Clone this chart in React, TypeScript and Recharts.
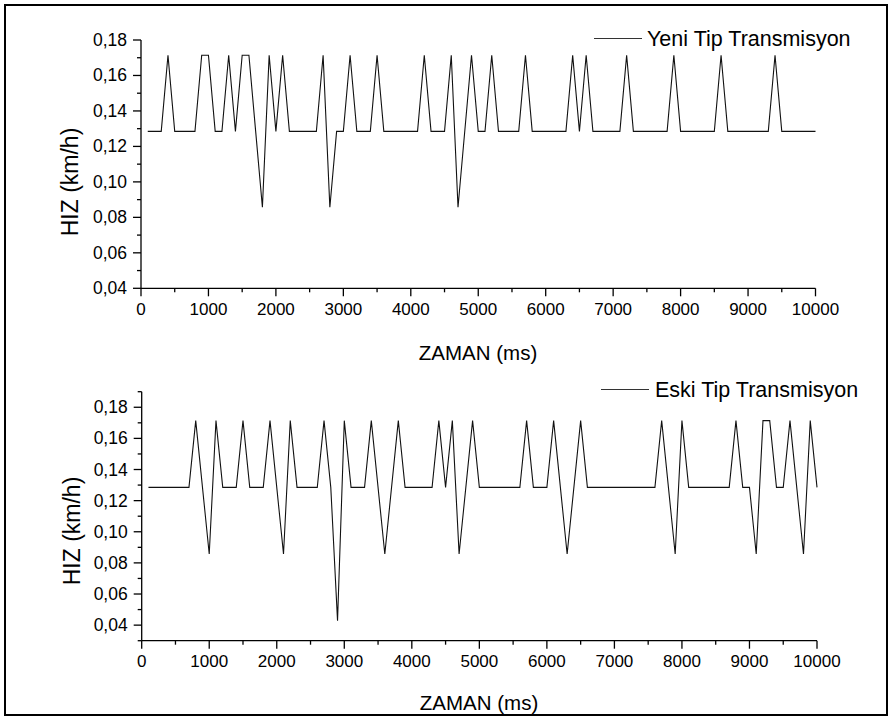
import React from 'react'
import { LineChart, Line, XAxis, YAxis } from 'recharts'

// time (ms) of each vertex
const yeniTime = [
    100, 300, 400, 500, 800, 900, 1000, 1100, 1200, 1300, 1400, 1500, 1600, 1700, 1800, 1900, 2000, 2100, 2200, 2600,
    2700, 2800, 2900, 3000, 3100, 3200, 3400, 3500, 3600, 4100, 4200, 4300, 4500, 4600, 4700, 4900, 5000, 5100, 5200,
    5300, 5600, 5700, 5800, 6300, 6400, 6500, 6600, 6700, 7100, 7200, 7300, 7800, 7900, 8000, 8500, 8600, 8700, 9300,
    9400, 9500, 10000,
]
const yeniSpeed = [
    0.1285, 0.1285, 0.1714, 0.1285, 0.1285, 0.1714, 0.1714, 0.1285, 0.1285, 0.1714, 0.1285, 0.1714, 0.1714, 0.1285,
    0.0857, 0.1714, 0.1285, 0.1714, 0.1285, 0.1285, 0.1714, 0.0857, 0.1285, 0.1285, 0.1714, 0.1285, 0.1285, 0.1714,
    0.1285, 0.1285, 0.1714, 0.1285, 0.1285, 0.1714, 0.0857, 0.1714, 0.1285, 0.1285, 0.1714, 0.1285, 0.1285, 0.1714,
    0.1285, 0.1285, 0.1714, 0.1285, 0.1714, 0.1285, 0.1285, 0.1714, 0.1285, 0.1285, 0.1714, 0.1285, 0.1285, 0.1714,
    0.1285, 0.1285, 0.1714, 0.1285, 0.1285,
]

const eskiTime = [
    100, 700, 800, 1000, 1100, 1200, 1400, 1500, 1600, 1800, 1900, 2100, 2200, 2300, 2600, 2700, 2800, 2900, 3000,
    3100, 3300, 3400, 3600, 3800, 3900, 4300, 4400, 4500, 4600, 4700, 4900, 5000, 5600, 5700, 5800, 6000, 6100, 6300,
    6500, 6600, 7600, 7700, 7900, 8000, 8100, 8700, 8800, 8900, 9000, 9100, 9200, 9300, 9400, 9500, 9600, 9800, 9900,
    10000,
]
const eskiSpeed = [
    0.1285, 0.1285, 0.1714, 0.0857, 0.1714, 0.1285, 0.1285, 0.1714, 0.1285, 0.1285, 0.1714, 0.0857, 0.1714, 0.1285,
    0.1285, 0.1714, 0.1285, 0.0428, 0.1714, 0.1285, 0.1285, 0.1714, 0.0857, 0.1714, 0.1285, 0.1285, 0.1714, 0.1285,
    0.1714, 0.0857, 0.1714, 0.1285, 0.1285, 0.1714, 0.1285, 0.1285, 0.1714, 0.0857, 0.1714, 0.1285, 0.1285, 0.1714,
    0.0857, 0.1714, 0.1285, 0.1285, 0.1714, 0.1285, 0.1285, 0.0857, 0.1714, 0.1714, 0.1285, 0.1285, 0.1714, 0.0857,
    0.1714, 0.1285,
]

const xTicks = [
    0, 500, 1000, 1500, 2000, 2500, 3000, 3500, 4000, 4500, 5000, 5500, 6000, 6500, 7000, 7500, 8000, 8500, 9000,
    9500, 10000,
]
const yTicksTop = [0.04, 0.05, 0.06, 0.07, 0.08, 0.09, 0.1, 0.11, 0.12, 0.13, 0.14, 0.15, 0.16, 0.17, 0.18]
const yTicksBottom = [0.03, 0.04, 0.05, 0.06, 0.07, 0.08, 0.09, 0.1, 0.11, 0.12, 0.13, 0.14, 0.15, 0.16, 0.17, 0.18, 0.19]

const yeniData = yeniTime.map((t, i) => ({ t, v: yeniSpeed[i] }))
const eskiData = eskiTime.map((t, i) => ({ t, v: eskiSpeed[i] }))

const FONT = "'Liberation Sans', Arial, sans-serif"

function XTick(props: any) {
    const { x, y, payload } = props
    const major = payload.value % 1000 === 0
    return (
        <g>
            <line x1={x} y1={y} x2={x} y2={y + (major ? 8 : 4)} stroke="#000" strokeWidth={1.3} />
            {major && (
                <text x={x} y={y + 21} textAnchor="middle" dominantBaseline="central" fontSize={17} fontFamily={FONT} fill="#000">
                    {payload.value}
                </text>
            )}
        </g>
    )
}

function YTick(props: any) {
    const { x, y, payload } = props
    const major = Math.round(payload.value * 100) % 2 === 0
    return (
        <g>
            <line x1={x - (major ? 8 : 4)} y1={y} x2={x} y2={y} stroke="#000" strokeWidth={1.3} />
            {major && (
                <text x={x - 14} y={y} textAnchor="end" dominantBaseline="central" fontSize={17.5} fontFamily={FONT} fill="#000">
                    {payload.value.toFixed(2).replace('.', ',')}
                </text>
            )}
        </g>
    )
}

const abs = (left: number, top: number, extra: React.CSSProperties = {}): React.CSSProperties => ({
    position: 'absolute',
    left,
    top,
    fontFamily: FONT,
    color: '#000',
    whiteSpace: 'nowrap',
    ...extra,
})

function Panel({ data, ticks, domain, top, plotTop, left, right, plotH, legend, legendX, legendY, lineX }: any) {
    return (
        <div style={{ position: 'absolute', left: 0, top, width: 895, height: 340 }}>
            <LineChart width={895} height={340} data={data} margin={{ top: plotTop, right, left: 0, bottom: 0 }}>
                <XAxis
                    dataKey="t"
                    type="number"
                    domain={[0, 10000]}
                    ticks={xTicks}
                    interval={0}
                    height={340 - plotTop - plotH}
                    tickSize={0}
                    tickMargin={0}
                    axisLine={{ stroke: '#000', strokeWidth: 1.3 }}
                    tickLine={false}
                    tick={<XTick />}
                />
                <YAxis
                    type="number"
                    domain={domain}
                    ticks={ticks}
                    interval={0}
                    width={left}
                    tickSize={0}
                    tickMargin={0}
                    allowDataOverflow
                    axisLine={{ stroke: '#000', strokeWidth: 1.3 }}
                    tickLine={false}
                    tick={<YTick />}
                />
                <Line type="linear" dataKey="v" stroke="#111" strokeWidth={1.1} dot={false} isAnimationActive={false} />
            </LineChart>
            <div style={abs(lineX, legendY - 1, { width: 48, height: 0, borderTop: '1.3px solid #333' })} />
            <div style={abs(legendX, legendY - 13, { fontSize: 21.5, lineHeight: '26px' })}>{legend}</div>
        </div>
    )
}

export default function App() {
    return (
        <div style={{ position: 'absolute', left: 0, top: 0, width: 895, height: 720, background: '#fff', overflow: 'hidden' }}>
            <div style={{ position: 'absolute', left: 4, top: 4, width: 880, height: 708, border: '2px solid #000' }} />
            <Panel
                data={yeniData}
                ticks={yTicksTop}
                domain={[0.04, 0.18]}
                top={0}
                plotTop={40}
                left={141}
                right={895 - 815.5}
                plotH={248.3}
                legend="Yeni Tip Transmisyon"
                legendX={647}
                legendY={39}
                lineX={594}
            />
            <Panel
                data={eskiData}
                ticks={yTicksBottom}
                domain={[0.03, 0.19]}
                top={350}
                plotTop={41.7}
                left={141.7}
                right={895 - 817}
                plotH={249}
                legend="Eski Tip Transmisyon"
                legendX={655}
                legendY={40}
                lineX={601}
            />
            <div style={abs(478, 353, { transform: 'translate(-50%, -50%)', fontSize: 20.5 })}>ZAMAN (ms)</div>
            <div style={abs(479, 703, { transform: 'translate(-50%, -50%)', fontSize: 20.5 })}>ZAMAN (ms)</div>
            <div style={abs(70, 182, { transform: 'translate(-50%, -50%) rotate(-90deg)', fontSize: 23 })}>HIZ (km/h)</div>
            <div style={abs(72, 531, { transform: 'translate(-50%, -50%) rotate(-90deg)', fontSize: 23 })}>HIZ (km/h)</div>
        </div>
    )
}
